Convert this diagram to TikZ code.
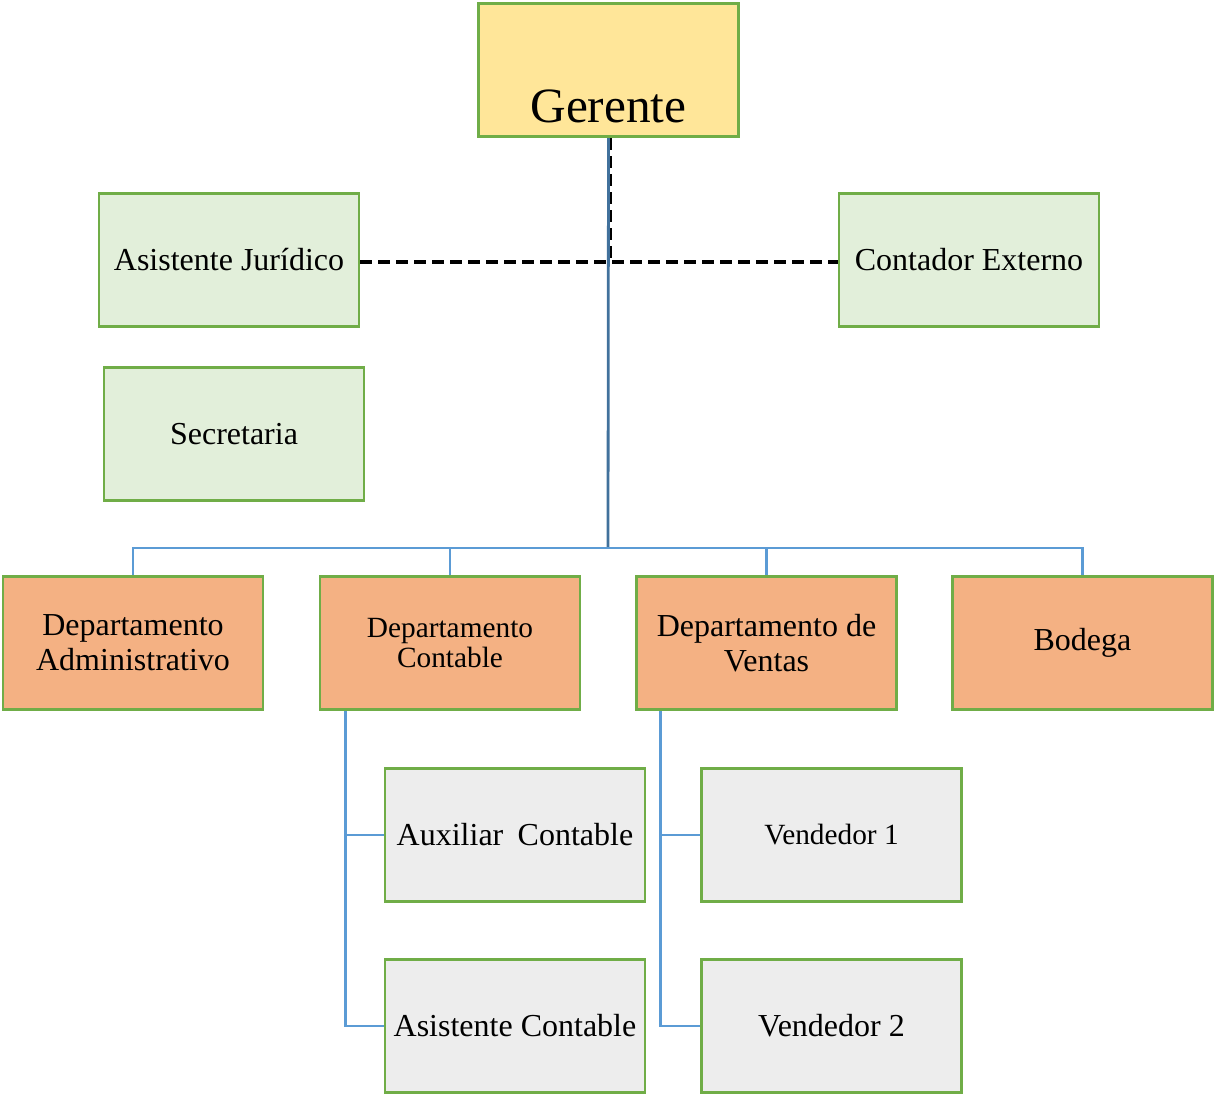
\documentclass[tikz,border=0pt]{standalone}
\usepackage{fontspec}
\setmainfont{Liberation Serif}
\usepackage{xcolor}
\usepackage{tikz}

\definecolor{boxline}{HTML}{70AD47}
\definecolor{jefe}{HTML}{FFE699}
\definecolor{apoyo}{HTML}{E2EFDA}
\definecolor{depto}{HTML}{F4B183}
\definecolor{cargo}{HTML}{EDEDED}
\definecolor{troncal}{HTML}{41719C}
\definecolor{rama}{HTML}{5B9BD5}

\begin{document}
\begin{tikzpicture}[x=0.75pt,y=-0.75pt,
    caja/.style={rectangle,draw=boxline,line width=2.1pt,inner sep=2pt,align=center,
        minimum width=195pt,minimum height=100pt,font=\fontsize{24}{26}\selectfont},
    conn/.style={draw=rama,line width=2.1pt},
    asesor/.style={draw=black,line width=2.6pt,dash pattern=on 9pt off 4.5pt}]
    \useasboundingbox (0,0) rectangle (1214,1095);

    % gerencia y asesores
    \node[caja,fill=jefe,label={[anchor=base,yshift=12pt,font=\fontsize{37}{40}\selectfont]south:Gerente}](ger) at (608.5,70) {};
    \node[caja,fill=apoyo](asj) at (229,260) {Asistente Jurídico};
    \node[caja,fill=apoyo](ce) at (969,260) {Contador Externo};
    \node[caja,fill=apoyo](sec) at (234,434) {Secretaria};

    % departamentos
    \node[caja,fill=depto](dadm) at (133,643) {Departamento\\Administrativo};
    \node[caja,fill=depto,font=\fontsize{22}{23}\selectfont](dcon) at (450,643) {Departamento\\Contable};
    \node[caja,fill=depto](dven) at (766.5,643) {Departamento de\\Ventas};
    \node[caja,fill=depto](bod) at (1082.5,643) {Bodega};

    % cargos
    \node[caja,fill=cargo](aux) at (515,835) {Auxiliar\hspace{0.45em}Contable};
    \node[caja,fill=cargo](asc) at (515,1026) {Asistente Contable};
    \node[caja,fill=cargo,font=\fontsize{22}{24}\selectfont](v1) at (831.5,835) {Vendedor 1};
    \node[caja,fill=cargo](v2) at (831.5,1026) {Vendedor 2};

    % lineas de asesoria
    \coordinate (cruce) at (610,262);
    \draw[asesor] (asj.east |- cruce) -- (ce.west |- cruce);
    \draw[asesor] (ger.south -| cruce) -- (cruce);

    % linea de mando
    \coordinate (bus) at (608,548);
    \draw[conn,draw=troncal] (ger.south) -- (bus);
    \foreach \d in {dadm,dcon,dven,bod}
        \draw[conn] (bus) -| (\d.north);
    \draw[conn] ([xshift=20pt]dcon.south west) |- (aux.west);
    \draw[conn] ([xshift=20pt]dcon.south west) |- (asc.west);
    \draw[conn] ([xshift=19pt]dven.south west) |- (v1.west);
    \draw[conn] ([xshift=19pt]dven.south west) |- (v2.west);
\end{tikzpicture}
\end{document}
